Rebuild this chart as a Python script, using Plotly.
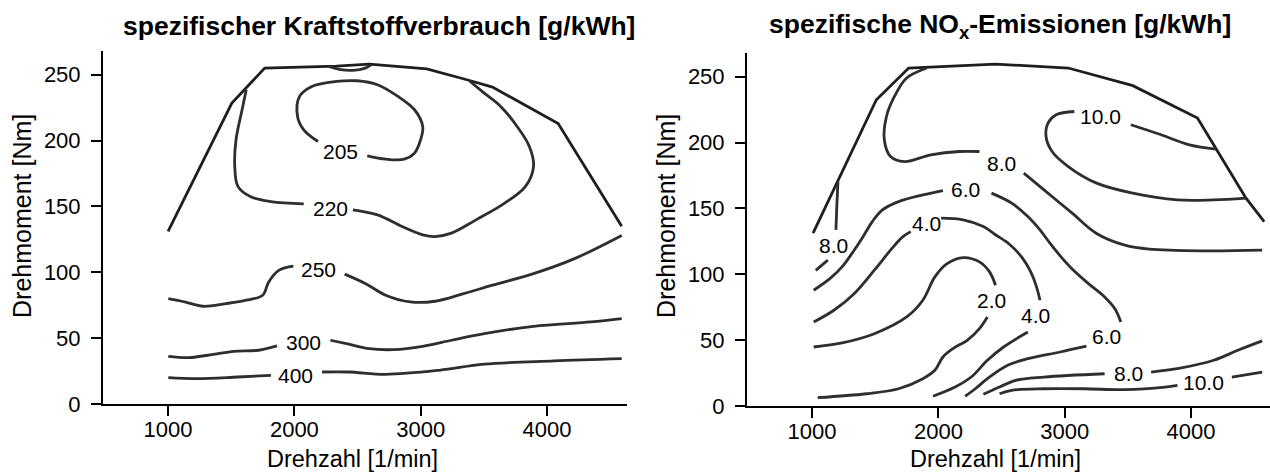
import plotly.graph_objects as go

# ---------------- data: left panel (specific fuel consumption, g/kWh) ----------------
BSFC_FULL_X = [1000, 1505, 1765, 2333, 2593, 3048, 3373, 3568, 4088, 4591]
BSFC_FULL_Y = [131, 228.5, 255, 256.5, 258, 254.5, 246, 240.6, 213, 135]

BSFC_LENS_X = [2268, 2366, 2463, 2561, 2610]
BSFC_LENS_Y = [256.5, 253.8, 253.3, 255, 257.6]

BSFC_205_X = [2187, 2074, 2025, 2041, 2139, 2333, 2496, 2658, 2820, 2951, 3016, 2999, 2951, 2869, 2723, 2577]
BSFC_205_Y = [199.3, 208.2, 218.3, 233.5, 241.1, 244.9, 245.4, 242.4, 233.5, 223.4, 210.7, 200.6, 190.5, 185.9, 185.9, 188.4]

BSFC_220A_X = [1619, 1586, 1538, 1528, 1554, 1651, 1814, 2074]
BSFC_220A_Y = [238.6, 223.4, 200.6, 180.3, 165, 157.5, 153.7, 152]
BSFC_220B_X = [2463, 2658, 2853, 3016, 3113, 3243, 3438, 3665, 3828, 3893, 3860, 3763, 3633, 3503, 3389]
BSFC_220B_Y = [147.4, 143.6, 134.7, 128.4, 127.1, 129.7, 139.8, 152.5, 165, 180.3, 195.5, 210.7, 225.9, 236, 245]

BSFC_250A_X = [1002, 1131, 1278, 1456, 1619, 1749, 1797, 1879, 1992]
BSFC_250A_Y = [80, 77.5, 74.2, 76.2, 78.8, 82.6, 92.7, 101.6, 104.6]
BSFC_250B_X = [2398, 2561, 2723, 2918, 3113, 3340, 3568, 3893, 4218, 4591]
BSFC_250B_Y = [98.6, 91.5, 82.6, 77.5, 78, 83.8, 90.2, 99, 110.4, 128]

BSFC_300A_X = [1002, 1164, 1359, 1521, 1716, 1862]
BSFC_300A_Y = [36.2, 35.2, 37.7, 40, 40.8, 44.1]
BSFC_300B_X = [2285, 2431, 2593, 2788, 3016, 3243, 3503, 3893, 4348, 4591]
BSFC_300B_Y = [48.4, 45.4, 42, 41.3, 43.8, 48.4, 53.4, 59, 62.3, 64.8]

BSFC_400A_X = [1002, 1229, 1553, 1814]
BSFC_400A_Y = [20, 19.2, 20.5, 21.8]
BSFC_400B_X = [2219, 2431, 2723, 3146, 3503, 4055, 4591]
BSFC_400B_Y = [24.3, 24.3, 22.5, 25.6, 30.2, 32.7, 34.4]

BSFC_LABEL_TEXT = ["205", "220", "250", "300", "400"]
BSFC_LABEL_X = [2366, 2285, 2188, 2074, 2009]
BSFC_LABEL_Y = [191.7, 148.7, 102.4, 46.4, 21.8]

# ---------------- data: right panel (specific NOx emissions, g/kWh) ----------------
NOX_FULL_X = [1008, 1509, 1765, 2452, 3028, 3539, 4051, 4435, 4579]
NOX_FULL_Y = [131.2, 232.5, 256.6, 259.6, 256.6, 243.2, 218.6, 157.8, 140]

NOX_10UA_X = [3076, 2932, 2868, 2852, 2900, 3028, 3252, 3539, 3892, 4179, 4435]
NOX_10UA_Y = [223.6, 221.1, 214.8, 204.6, 193.2, 181.8, 169.2, 161.6, 156.5, 156.5, 157.8]
NOX_10UB_X = [3523, 3763, 3987, 4200]
NOX_10UB_Y = [213.5, 205.9, 198.3, 195]

NOX_8UA_X = [1909, 1749, 1652, 1589, 1572, 1621, 1732, 1940, 2165, 2325]
NOX_8UA_Y = [256.6, 249, 235, 219.8, 202.1, 189.4, 185.6, 190.7, 193.2, 193.2]
NOX_8UB_X = [2676, 2836, 3059, 3252, 3476, 3668, 4115, 4563]
NOX_8UB_Y = [176.8, 164.1, 146.4, 131, 122.1, 119.1, 117.8, 118.3]

NOX_8LV_X = [1205, 1196, 1189]
NOX_8LV_Y = [170.5, 152, 133.7]
NOX_8LS_X = [1029, 1125]
NOX_8LS_Y = [103, 110.7]

NOX_6A_X = [2036, 1877, 1685, 1557, 1477, 1400, 1333, 1237, 1141, 1013]
NOX_6A_Y = [163.6, 160.3, 155.2, 148.9, 140, 128, 118.3, 105.6, 96.7, 87.9]
NOX_6B_X = [2420, 2580, 2708, 2804, 2880, 2964, 3059, 3188, 3316, 3396, 3444]
NOX_6B_Y = [161.6, 154, 143.8, 133.7, 124, 114, 104, 92.9, 82.8, 74, 63.8]
NOX_6C_X = [3172, 2964, 2708, 2548, 2388, 2292, 2212]
NOX_6C_Y = [45.4, 41, 35.9, 30.9, 20.7, 13.1, 7.4]

NOX_4A_X = [1781, 1717, 1621, 1493, 1333, 1173, 1013]
NOX_4A_Y = [132.4, 128.4, 118.3, 103.1, 85.3, 72.7, 63.8]
NOX_4B_X = [2021, 2196, 2356, 2452, 2560, 2660, 2730, 2775, 2804]
NOX_4B_Y = [142.6, 141.3, 136.2, 130, 123, 113, 102, 91, 80.3]
NOX_4C_X = [2708, 2516, 2388, 2260, 2132, 1957]
NOX_4C_Y = [56.2, 44.8, 34.7, 22, 14.4, 7.4]

NOX_2A_X = [1013, 1237, 1493, 1749, 1877, 1972, 2069, 2196, 2325, 2405, 2452]
NOX_2A_Y = [44.8, 47.9, 54.9, 67.6, 80.3, 98, 108.1, 112.7, 109.4, 101.8, 91.7]
NOX_2B_X = [2388, 2325, 2228, 2116, 2036, 1972, 1877, 1685, 1429, 1045]
NOX_2B_Y = [67.6, 58.8, 49.9, 43.6, 37.2, 27.1, 20.7, 13.1, 9.3, 6.3]

NOX_8LA_X = [2356, 2484, 2612, 2836, 3316]
NOX_8LA_Y = [8.9, 14.4, 19.5, 22, 24.5]
NOX_8LB_X = [3684, 3923, 4179, 4371, 4563]
NOX_8LB_Y = [25.8, 28.9, 34.7, 42.3, 49.4]

NOX_10LA_X = [2484, 2580, 2836, 3156, 3476, 3795, 3892]
NOX_10LA_Y = [9.3, 11.9, 13.1, 13.1, 12.4, 14.4, 15.7]
NOX_10LB_X = [4323, 4563]
NOX_10LB_Y = [22, 25.8]

NOX_LABEL_TEXT = ["10.0", "8.0", "6.0", "4.0", "8.0", "2.0", "4.0", "6.0", "8.0", "10.0"]
NOX_LABEL_X = [3284, 2500, 2212, 1909, 1173, 2420, 2772, 3332, 3508, 4099]
NOX_LABEL_Y = [219.8, 184.4, 164.1, 138.8, 122, 80.3, 68.9, 52.4, 24.5, 18.2]

X_TICKS = [1000, 2000, 3000, 4000]
Y_TICKS = [0, 50, 100, 150, 200, 250]

TITLE_LEFT = "<b>spezifischer Kraftstoffverbrauch [g/kWh]</b>"
TITLE_RIGHT = "<b>spezifische NO<sub>x</sub>-Emissionen [g/kWh]</b>"
X_TITLE = "Drehzahl [1/min]"
Y_TITLE = "Drehmoment [Nm]"

# ---------------- figure ----------------
FONT = "Liberation Sans, Arial, sans-serif"
LINE_COL = "#2e2e2e"
BOUND_COL = "#1e1e1e"

fig = go.Figure()

left_bounds = [(BSFC_FULL_X, BSFC_FULL_Y)]
left_curves = [(BSFC_LENS_X, BSFC_LENS_Y), (BSFC_205_X, BSFC_205_Y),
               (BSFC_220A_X, BSFC_220A_Y), (BSFC_220B_X, BSFC_220B_Y),
               (BSFC_250A_X, BSFC_250A_Y), (BSFC_250B_X, BSFC_250B_Y),
               (BSFC_300A_X, BSFC_300A_Y), (BSFC_300B_X, BSFC_300B_Y),
               (BSFC_400A_X, BSFC_400A_Y), (BSFC_400B_X, BSFC_400B_Y)]
right_bounds = [(NOX_FULL_X, NOX_FULL_Y)]
right_curves = [(NOX_10UA_X, NOX_10UA_Y), (NOX_10UB_X, NOX_10UB_Y),
                (NOX_8UA_X, NOX_8UA_Y), (NOX_8UB_X, NOX_8UB_Y),
                (NOX_8LV_X, NOX_8LV_Y), (NOX_8LS_X, NOX_8LS_Y),
                (NOX_6A_X, NOX_6A_Y), (NOX_6B_X, NOX_6B_Y), (NOX_6C_X, NOX_6C_Y),
                (NOX_4A_X, NOX_4A_Y), (NOX_4B_X, NOX_4B_Y), (NOX_4C_X, NOX_4C_Y),
                (NOX_2A_X, NOX_2A_Y), (NOX_2B_X, NOX_2B_Y),
                (NOX_8LA_X, NOX_8LA_Y), (NOX_8LB_X, NOX_8LB_Y),
                (NOX_10LA_X, NOX_10LA_Y), (NOX_10LB_X, NOX_10LB_Y)]

for axes, bounds, curves in [(("x", "y"), left_bounds, left_curves),
                             (("x2", "y2"), right_bounds, right_curves)]:
    for xs, ys in bounds:
        fig.add_trace(go.Scatter(x=xs, y=ys, mode="lines", xaxis=axes[0], yaxis=axes[1],
                                 line=dict(color=BOUND_COL, width=2.8, shape="linear"),
                                 hoverinfo="skip", showlegend=False))
    for xs, ys in curves:
        fig.add_trace(go.Scatter(x=xs, y=ys, mode="lines", xaxis=axes[0], yaxis=axes[1],
                                 line=dict(color=LINE_COL, width=2.8, shape="spline", smoothing=1.0),
                                 hoverinfo="skip", showlegend=False))

annotations = []
for t, x, y in zip(BSFC_LABEL_TEXT, BSFC_LABEL_X, BSFC_LABEL_Y):
    annotations.append(dict(text=t, x=x, y=y, xref="x", yref="y", showarrow=False,
                            xanchor="center", yanchor="middle",
                            font=dict(family=FONT, size=21, color="black")))
for t, x, y in zip(NOX_LABEL_TEXT, NOX_LABEL_X, NOX_LABEL_Y):
    annotations.append(dict(text=t, x=x, y=y, xref="x2", yref="y2", showarrow=False,
                            xanchor="center", yanchor="middle",
                            font=dict(family=FONT, size=21, color="black")))

W, H = 1270, 474
def px(v):
    return v / W
def py(v):
    return 1 - v / H

# titles
annotations.append(dict(text=TITLE_LEFT, x=px(379), y=py(26), xref="paper", yref="paper",
                        showarrow=False, xanchor="center", yanchor="middle",
                        font=dict(family=FONT, size=26.5, color="black")))
annotations.append(dict(text=TITLE_RIGHT, x=px(1000), y=py(26), xref="paper", yref="paper",
                        showarrow=False, xanchor="center", yanchor="middle",
                        font=dict(family=FONT, size=26.5, color="black")))
# axis titles
for cx in (352, 995):
    annotations.append(dict(text=X_TITLE, x=px(cx), y=py(459), xref="paper", yref="paper",
                            showarrow=False, xanchor="center", yanchor="middle",
                            font=dict(family=FONT, size=23.5, color="black")))
for cx in (22, 666):
    annotations.append(dict(text=Y_TITLE, x=px(cx), y=py(216), xref="paper", yref="paper",
                            showarrow=False, xanchor="center", yanchor="middle", textangle=-90,
                            font=dict(family=FONT, size=25, color="black")))

axis_common = dict(showline=True, linecolor="black", linewidth=2, ticks="outside",
                   ticklen=10, tickwidth=2, tickcolor="black", showgrid=False,
                   zeroline=False, mirror=False, automargin=False,
                   tickfont=dict(family=FONT, size=22, color="black"))

XR = [485, 4633]
YR = [0, 268]

fig.update_layout(
    width=W, height=H, autosize=False,
    margin=dict(l=0, r=0, t=0, b=0, pad=0),
    paper_bgcolor="white", plot_bgcolor="white",
    showlegend=False,
    annotations=annotations,
    xaxis=dict(domain=[px(103), px(627)], range=XR, tickvals=X_TICKS, anchor="y",
               ticklabelstandoff=-5, **axis_common),
    yaxis=dict(domain=[py(404), py(51)], range=YR, tickvals=Y_TICKS, anchor="x",
               ticklabelstandoff=6, **axis_common),
    xaxis2=dict(domain=[px(747), 1.0], range=[485, 4625], tickvals=X_TICKS, anchor="y2",
                ticklabelstandoff=-5, **axis_common),
    yaxis2=dict(domain=[py(406), py(53)], range=YR, tickvals=Y_TICKS, anchor="x2",
                ticklabelstandoff=6, **axis_common),
)

fig.write_html("out.html")
